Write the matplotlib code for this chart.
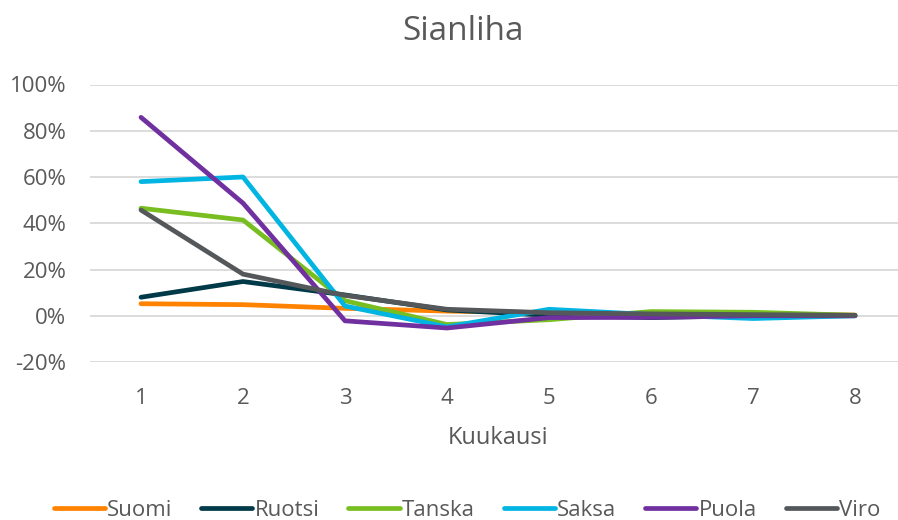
import matplotlib
matplotlib.use("Agg")
import matplotlib.pyplot as plt
from matplotlib.ticker import FuncFormatter

months = [1, 2, 3, 4, 5, 6, 7, 8]
suomi = [5.2, 4.8, 3.2, 2.0, 1.3, 0.8, 0.5, 0.3]
ruotsi = [8.0, 14.8, 9.0, 2.5, 0.2, -0.8, 0.0, 0.0]
tanska = [46.5, 41.4, 6.5, -3.8, -1.7, 1.8, 1.5, 0.2]
saksa = [58.0, 60.0, 4.2, -4.8, 2.8, 0.5, -1.2, 0.0]
puola = [85.8, 48.7, -2.2, -5.3, -0.8, -0.7, 0.0, 0.0]
viro = [45.7, 18.0, 8.8, 2.8, 1.3, 0.8, 0.5, 0.2]

series = [
    ("Suomi", suomi, "#FF8200"),
    ("Ruotsi", ruotsi, "#003A48"),
    ("Tanska", tanska, "#78BE20"),
    ("Saksa", saksa, "#00B5E2"),
    ("Puola", puola, "#7030A0"),
    ("Viro", viro, "#54585A"),
]

plt.rcParams["font.family"] = ["Open Sans", "DejaVu Sans"]
text_color = "#595959"

fig = plt.figure(figsize=(8.98, 5.2), dpi=100)
ax = fig.add_axes([90 / 898, 1 - 362 / 520, 816 / 898, (362 - 84.5) / 520])

for name, vals, col in series:
    ax.plot(months, vals, color=col, lw=3.4, label=name,
            solid_capstyle="round", solid_joinstyle="round")

ax.set_xlim(0.5, 8.5)
ax.set_ylim(-20, 100)
ax.set_yticks(range(-20, 101, 20))
ax.set_xticks(months)
ax.yaxis.set_major_formatter(FuncFormatter(lambda v, p: f"{int(v)}%"))
ax.grid(axis="y", color="#D9D9D9", lw=1.3)
ax.set_axisbelow(True)
for s in ax.spines.values():
    s.set_visible(False)
ax.tick_params(axis="both", length=0, labelsize=16, colors=text_color)
ax.tick_params(axis="y", pad=17)
ax.tick_params(axis="x", pad=19)

ax.set_xlabel("Kuukausi", fontsize=17, color=text_color, labelpad=12)
fig.text(463 / 898, 1 - 31 / 520, "Sianliha", ha="center", va="center",
         fontsize=24, color=text_color)

leg = fig.legend(loc="center", bbox_to_anchor=(467 / 898, 1 - 510 / 520), ncol=6,
                 frameon=False, fontsize=16, handlelength=2.3, handletextpad=0.1,
                 columnspacing=1.3, labelcolor=text_color)

fig.savefig("out.png", dpi=100)
